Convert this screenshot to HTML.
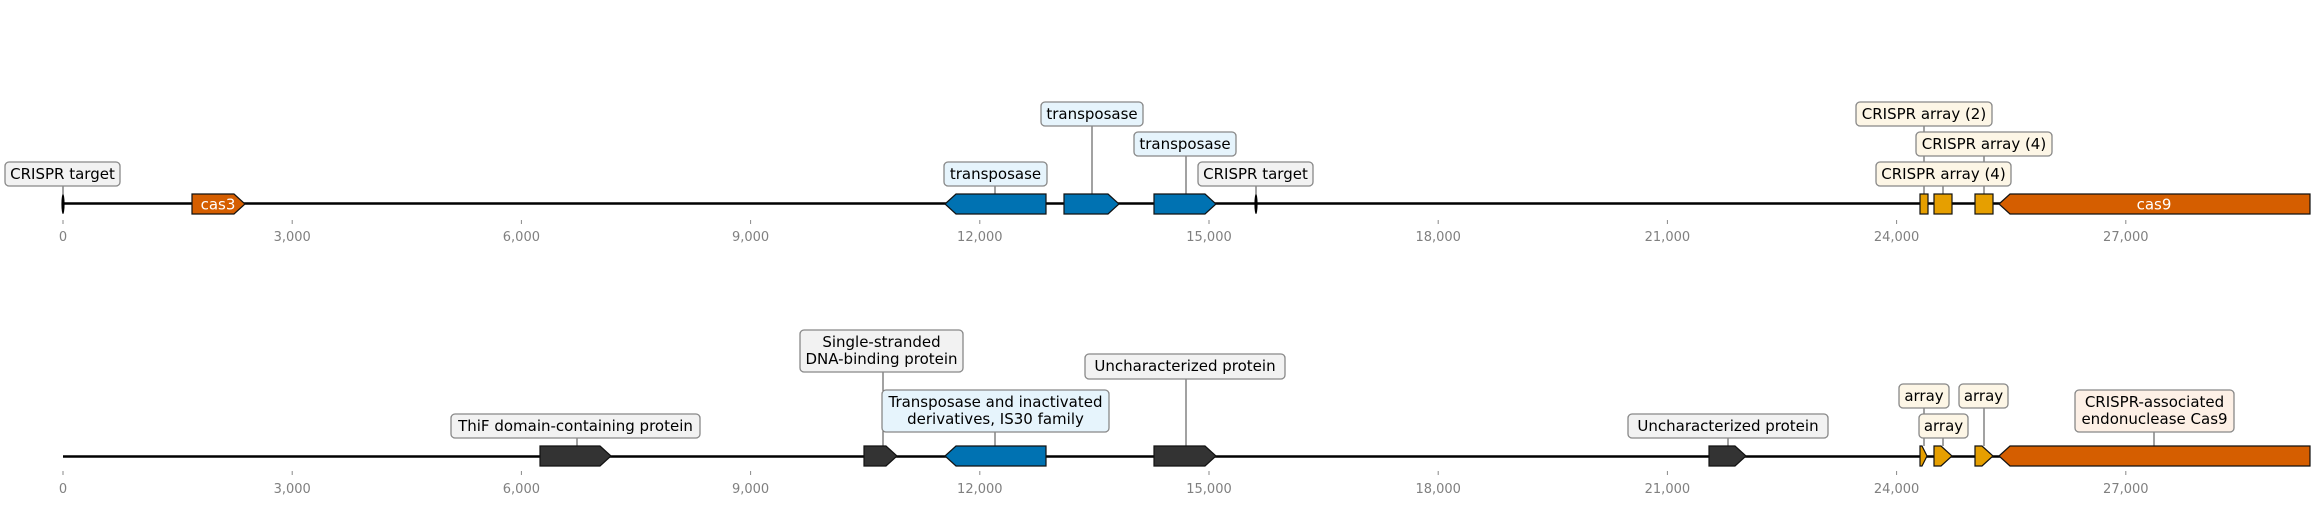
<!DOCTYPE html>
<html><head><meta charset="utf-8"><style>
html,body{margin:0;padding:0;background:#fff;}
svg{display:block;font-family:"DejaVu Sans","Liberation Sans",sans-serif;}
.lb{font-size:15px;fill:#000;}
.tk{font-size:13px;fill:#808080;}
.bx{stroke:#888;stroke-width:1.3;}
.g{fill:#f2f2f2}.b{fill:#e6f4fc}.c{fill:#fdf6e6}.o{fill:#fdf0e6}
.ln{stroke:#444;stroke-width:1;}
.gene{stroke:#111;stroke-width:1.2;}
</style></head><body>
<svg width="2319" height="505" viewBox="0 0 2319 505" xmlns="http://www.w3.org/2000/svg">
<!-- TOP TRACK -->
<g>
<!-- connectors -->
<line class="ln" x1="63" y1="186" x2="63" y2="196"/>
<line class="ln" x1="1256" y1="186" x2="1256" y2="196"/>
<line class="ln" x1="995" y1="186" x2="995" y2="194"/>
<line class="ln" x1="1092" y1="126" x2="1092" y2="194"/>
<line class="ln" x1="1186" y1="156" x2="1186" y2="194"/>
<line class="ln" x1="1924" y1="126" x2="1924" y2="194"/>
<line class="ln" x1="1984" y1="156" x2="1984" y2="194"/>
<line class="ln" x1="1943" y1="186" x2="1943" y2="194"/>
<line x1="63" y1="203.5" x2="2310" y2="203.5" stroke="#000" stroke-width="2.5"/>
<ellipse cx="63" cy="204" rx="1.6" ry="10" fill="#000"/>
<ellipse cx="1256" cy="204" rx="1.6" ry="10" fill="#000"/>
<polygon class="gene" fill="#d55e00" points="192,194 234,194 245,204 234,214 192,214"/>
<text x="218" y="209.5" font-size="15" fill="#fff" text-anchor="middle">cas3</text>
<polygon class="gene" fill="#0072b2" points="945,204 956,194 1046,194 1046,214 956,214"/>
<polygon class="gene" fill="#0072b2" points="1064,194 1108,194 1119,204 1108,214 1064,214"/>
<polygon class="gene" fill="#0072b2" points="1154,194 1205,194 1216,204 1205,214 1154,214"/>
<rect class="gene" fill="#e69f00" x="1920" y="194" width="8" height="20"/>
<rect class="gene" fill="#e69f00" x="1934" y="194" width="18" height="20"/>
<rect class="gene" fill="#e69f00" x="1975" y="194" width="18" height="20"/>
<polygon class="gene" fill="#d55e00" points="1999,204 2010,194 2310,194 2310,214 2010,214"/>
<text x="2154" y="209.5" font-size="15" fill="#fff" text-anchor="middle">cas9</text>
<!-- labels -->
<rect class="bx g" x="5" y="162" width="115" height="24" rx="4"/>
<text class="lb" x="62.5" y="179" text-anchor="middle">CRISPR target</text>
<rect class="bx b" x="944" y="162" width="103" height="24" rx="4"/>
<text class="lb" x="995.5" y="179" text-anchor="middle">transposase</text>
<rect class="bx b" x="1041" y="102" width="102" height="24" rx="4"/>
<text class="lb" x="1092" y="119" text-anchor="middle">transposase</text>
<rect class="bx b" x="1134" y="132" width="102" height="24" rx="4"/>
<text class="lb" x="1185" y="149" text-anchor="middle">transposase</text>
<rect class="bx g" x="1198" y="162" width="115" height="24" rx="4"/>
<text class="lb" x="1255.5" y="179" text-anchor="middle">CRISPR target</text>
<rect class="bx c" x="1856" y="102" width="136" height="24" rx="4"/>
<text class="lb" x="1924" y="119" text-anchor="middle">CRISPR array (2)</text>
<rect class="bx c" x="1916" y="132" width="136" height="24" rx="4"/>
<text class="lb" x="1984" y="149" text-anchor="middle">CRISPR array (4)</text>
<rect class="bx c" x="1876" y="162" width="135" height="24" rx="4"/>
<text class="lb" x="1943.5" y="179" text-anchor="middle">CRISPR array (4)</text>
<!-- ticks -->
<g stroke="#888" stroke-width="1">
<line x1="63" y1="220" x2="63" y2="224"/><line x1="292.2" y1="220" x2="292.2" y2="224"/><line x1="521.4" y1="220" x2="521.4" y2="224"/><line x1="750.6" y1="220" x2="750.6" y2="224"/><line x1="979.8" y1="220" x2="979.8" y2="224"/><line x1="1209" y1="220" x2="1209" y2="224"/><line x1="1438.2" y1="220" x2="1438.2" y2="224"/><line x1="1667.4" y1="220" x2="1667.4" y2="224"/><line x1="1896.6" y1="220" x2="1896.6" y2="224"/><line x1="2125.8" y1="220" x2="2125.8" y2="224"/>
</g>
<g class="tk" text-anchor="middle">
<text x="63" y="241">0</text><text x="292.2" y="241">3,000</text><text x="521.4" y="241">6,000</text><text x="750.6" y="241">9,000</text><text x="979.8" y="241">12,000</text><text x="1209" y="241">15,000</text><text x="1438.2" y="241">18,000</text><text x="1667.4" y="241">21,000</text><text x="1896.6" y="241">24,000</text><text x="2125.8" y="241">27,000</text>
</g>
</g>
<!-- BOTTOM TRACK -->
<g>
<line class="ln" x1="577" y1="438" x2="577" y2="446"/>
<line class="ln" x1="883" y1="372" x2="883" y2="446"/>
<line class="ln" x1="995" y1="432" x2="995" y2="446"/>
<line class="ln" x1="1186" y1="379" x2="1186" y2="446"/>
<line class="ln" x1="1728" y1="438" x2="1728" y2="446"/>
<line class="ln" x1="1924" y1="408" x2="1924" y2="446"/>
<line class="ln" x1="1943" y1="438" x2="1943" y2="446"/>
<line class="ln" x1="1984" y1="408" x2="1984" y2="446"/>
<line class="ln" x1="2154" y1="432" x2="2154" y2="446"/>
<line x1="63" y1="456.5" x2="2310" y2="456.5" stroke="#000" stroke-width="2.5"/>
<polygon class="gene" fill="#333" points="540,446 600,446 611,456 600,466 540,466"/>
<polygon class="gene" fill="#333" points="864,446 886,446 897,456 886,466 864,466"/>
<polygon class="gene" fill="#0072b2" points="945,456 956,446 1046,446 1046,466 956,466"/>
<polygon class="gene" fill="#333" points="1154,446 1205,446 1216,456 1205,466 1154,466"/>
<polygon class="gene" fill="#333" points="1709,446 1735,446 1746,456 1735,466 1709,466"/>
<polygon class="gene" fill="#e69f00" points="1920,446 1922,446 1927,456 1922,466 1920,466"/>
<polygon class="gene" fill="#e69f00" points="1934,446 1941,446 1952,456 1941,466 1934,466"/>
<polygon class="gene" fill="#e69f00" points="1975,446 1982,446 1993,456 1982,466 1975,466"/>
<polygon class="gene" fill="#d55e00" points="1999,456 2010,446 2310,446 2310,466 2010,466"/>
<rect class="bx g" x="451" y="414" width="249" height="24" rx="4"/>
<text class="lb" x="575.5" y="431" text-anchor="middle">ThiF domain-containing protein</text>
<rect class="bx g" x="800" y="330" width="163" height="42" rx="4"/>
<text class="lb" x="881.5" y="347" text-anchor="middle">Single-stranded</text>
<text class="lb" x="881.5" y="364" text-anchor="middle">DNA-binding protein</text>
<rect class="bx b" x="882" y="390" width="227" height="42" rx="4"/>
<text class="lb" x="995.5" y="407" text-anchor="middle">Transposase and inactivated</text>
<text class="lb" x="995.5" y="424" text-anchor="middle">derivatives, IS30 family</text>
<rect class="bx g" x="1085" y="354" width="200" height="25" rx="4"/>
<text class="lb" x="1185" y="371" text-anchor="middle">Uncharacterized protein</text>
<rect class="bx g" x="1628" y="414" width="200" height="24" rx="4"/>
<text class="lb" x="1728" y="431" text-anchor="middle">Uncharacterized protein</text>
<rect class="bx c" x="1899" y="384" width="50" height="24" rx="4"/>
<text class="lb" x="1924" y="401" text-anchor="middle">array</text>
<rect class="bx c" x="1919" y="414" width="49" height="24" rx="4"/>
<text class="lb" x="1943.5" y="431" text-anchor="middle">array</text>
<rect class="bx c" x="1959" y="384" width="49" height="24" rx="4"/>
<text class="lb" x="1983.5" y="401" text-anchor="middle">array</text>
<rect class="bx o" x="2075" y="390" width="159" height="42" rx="4"/>
<text class="lb" x="2154.5" y="407" text-anchor="middle">CRISPR-associated</text>
<text class="lb" x="2154.5" y="424" text-anchor="middle">endonuclease Cas9</text>
<g stroke="#888" stroke-width="1">
<line x1="63" y1="471" x2="63" y2="475"/><line x1="292.2" y1="471" x2="292.2" y2="475"/><line x1="521.4" y1="471" x2="521.4" y2="475"/><line x1="750.6" y1="471" x2="750.6" y2="475"/><line x1="979.8" y1="471" x2="979.8" y2="475"/><line x1="1209" y1="471" x2="1209" y2="475"/><line x1="1438.2" y1="471" x2="1438.2" y2="475"/><line x1="1667.4" y1="471" x2="1667.4" y2="475"/><line x1="1896.6" y1="471" x2="1896.6" y2="475"/><line x1="2125.8" y1="471" x2="2125.8" y2="475"/>
</g>
<g class="tk" text-anchor="middle">
<text x="63" y="493">0</text><text x="292.2" y="493">3,000</text><text x="521.4" y="493">6,000</text><text x="750.6" y="493">9,000</text><text x="979.8" y="493">12,000</text><text x="1209" y="493">15,000</text><text x="1438.2" y="493">18,000</text><text x="1667.4" y="493">21,000</text><text x="1896.6" y="493">24,000</text><text x="2125.8" y="493">27,000</text>
</g>
</g>
</svg>
</body></html>
